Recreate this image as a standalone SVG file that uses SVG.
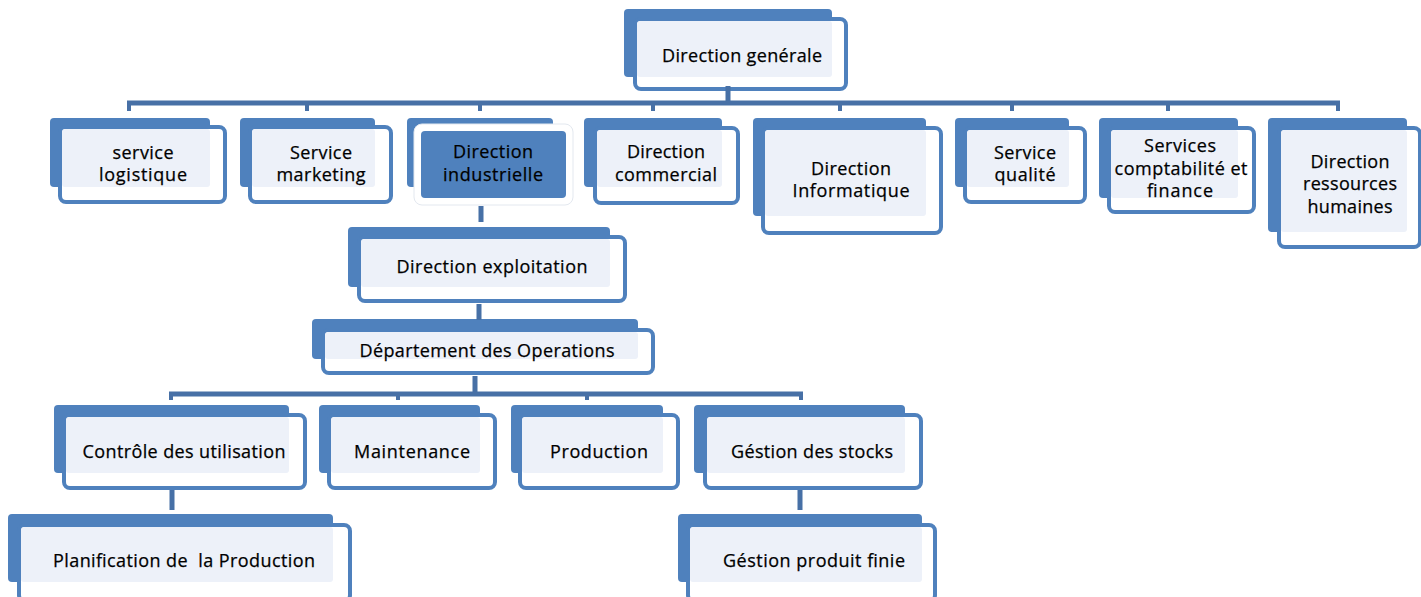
<svg xmlns="http://www.w3.org/2000/svg" width="1421" height="597" viewBox="0 0 1421 597">
<style>
.a{fill:#4F81BD}
.b{fill:#FFFFFF;stroke:#4F81BD;stroke-width:4}
.c{fill:#EDF1F9}
.sel{fill:#4F81BD}
.bw{fill:#FFFFFF;stroke:#E3E8EF;stroke-width:1}
.t{font-family:"Open Sans","Liberation Sans",sans-serif;font-size:18px;fill:#000;stroke:#000;stroke-width:0.25;text-anchor:middle}
.cn{stroke:#4770A6;stroke-width:5;fill:none}
.tk{stroke:#4770A6;stroke-width:4;fill:none}
</style>
<rect width="1421" height="597" fill="#FFFFFF"/>
<g id="n0">
<rect class="a" x="624" y="9" width="208" height="68" rx="4"/>
<rect class="b" x="635" y="19" width="211" height="70" rx="6"/>
<rect class="c" x="637" y="21" width="195" height="56" rx="3"/>
<text class="t" x="742" y="62" textLength="160" lengthAdjust="spacing">Direction genérale</text>
</g>
<g id="n1">
<rect class="a" x="50" y="118" width="160" height="69" rx="4"/>
<rect class="b" x="60" y="127" width="165" height="75" rx="6"/>
<rect class="c" x="62" y="129" width="148" height="58" rx="3"/>
<text class="t" x="143" y="159" textLength="61" lengthAdjust="spacing">service</text>
<text class="t" x="143" y="181" textLength="88" lengthAdjust="spacing">logistique</text>
</g>
<g id="n2">
<rect class="a" x="240" y="118" width="135" height="69" rx="4"/>
<rect class="b" x="250" y="127" width="141" height="75" rx="6"/>
<rect class="c" x="252" y="129" width="123" height="58" rx="3"/>
<text class="t" x="321" y="159" textLength="62" lengthAdjust="spacing">Service</text>
<text class="t" x="321" y="181" textLength="89" lengthAdjust="spacing">marketing</text>
</g>
<g id="n3">
<rect class="a" x="407" y="118" width="146" height="69" rx="4"/>
<rect class="bw" x="414" y="124" width="159" height="81" rx="8"/>
<rect class="sel" x="421" y="131" width="145" height="67" rx="4"/>
<text class="t" x="493" y="158" textLength="80" lengthAdjust="spacing">Direction</text>
<text class="t" x="493" y="181" textLength="100" lengthAdjust="spacing">industrielle</text>
</g>
<g id="n4">
<rect class="a" x="584" y="118" width="138" height="69" rx="4"/>
<rect class="b" x="595" y="128" width="143" height="75" rx="6"/>
<rect class="c" x="597" y="130" width="125" height="57" rx="3"/>
<text class="t" x="666" y="158" textLength="78" lengthAdjust="spacing">Direction</text>
<text class="t" x="666" y="181" textLength="102" lengthAdjust="spacing">commercial</text>
</g>
<g id="n5">
<rect class="a" x="753" y="118" width="173" height="98" rx="4"/>
<rect class="b" x="763" y="128" width="178" height="105" rx="6"/>
<rect class="c" x="765" y="130" width="161" height="86" rx="3"/>
<text class="t" x="851" y="175" textLength="80" lengthAdjust="spacing">Direction</text>
<text class="t" x="851" y="197" textLength="117" lengthAdjust="spacing">Informatique</text>
</g>
<g id="n6">
<rect class="a" x="955" y="118" width="114" height="69" rx="4"/>
<rect class="b" x="965" y="128" width="120" height="74" rx="6"/>
<rect class="c" x="967" y="130" width="102" height="57" rx="3"/>
<text class="t" x="1025" y="159" textLength="62" lengthAdjust="spacing">Service</text>
<text class="t" x="1025" y="181" textLength="61" lengthAdjust="spacing">qualité</text>
</g>
<g id="n7">
<rect class="a" x="1099" y="118" width="139" height="80" rx="4"/>
<rect class="b" x="1109" y="128" width="145" height="84" rx="6"/>
<rect class="c" x="1111" y="130" width="127" height="68" rx="3"/>
<text class="t" x="1180" y="152" textLength="72" lengthAdjust="spacing">Services</text>
<text class="t" x="1181" y="175" textLength="133" lengthAdjust="spacing">comptabilité et</text>
<text class="t" x="1180" y="197" textLength="66" lengthAdjust="spacing">finance</text>
</g>
<g id="n8">
<rect class="a" x="1268" y="118" width="139" height="114" rx="4"/>
<rect class="b" x="1279" y="128" width="141" height="119" rx="6"/>
<rect class="c" x="1281" y="130" width="126" height="102" rx="3"/>
<text class="t" x="1350" y="168" textLength="79" lengthAdjust="spacing">Direction</text>
<text class="t" x="1350" y="190" textLength="94" lengthAdjust="spacing">ressources</text>
<text class="t" x="1350" y="213" textLength="85" lengthAdjust="spacing">humaines</text>
</g>
<g id="n9">
<rect class="a" x="348" y="227" width="262" height="60" rx="4"/>
<rect class="b" x="359" y="237" width="266" height="64" rx="6"/>
<rect class="c" x="361" y="239" width="249" height="48" rx="3"/>
<text class="t" x="492" y="273" textLength="191" lengthAdjust="spacing">Direction exploitation</text>
</g>
<g id="n10">
<rect class="a" x="312" y="319" width="326" height="40" rx="4"/>
<rect class="b" x="323" y="330" width="330" height="43" rx="6"/>
<rect class="c" x="325" y="332" width="313" height="27" rx="3"/>
<text class="t" x="487" y="357" textLength="255" lengthAdjust="spacing">Département des Operations</text>
</g>
<g id="n11">
<rect class="a" x="54" y="405" width="235" height="68" rx="4"/>
<rect class="b" x="64" y="415" width="241" height="73" rx="6"/>
<rect class="c" x="66" y="417" width="223" height="56" rx="3"/>
<text class="t" x="184" y="458" textLength="203" lengthAdjust="spacing">Contrôle des utilisation</text>
</g>
<g id="n12">
<rect class="a" x="319" y="405" width="161" height="68" rx="4"/>
<rect class="b" x="329" y="415" width="166" height="73" rx="6"/>
<rect class="c" x="331" y="417" width="149" height="56" rx="3"/>
<text class="t" x="412" y="458" textLength="116" lengthAdjust="spacing">Maintenance</text>
</g>
<g id="n13">
<rect class="a" x="511" y="405" width="152" height="68" rx="4"/>
<rect class="b" x="520" y="415" width="158" height="73" rx="6"/>
<rect class="c" x="522" y="417" width="141" height="56" rx="3"/>
<text class="t" x="599" y="458" textLength="98" lengthAdjust="spacing">Production</text>
</g>
<g id="n14">
<rect class="a" x="694" y="405" width="211" height="68" rx="4"/>
<rect class="b" x="705" y="415" width="216" height="73" rx="6"/>
<rect class="c" x="707" y="417" width="198" height="56" rx="3"/>
<text class="t" x="812" y="458" textLength="162" lengthAdjust="spacing">Géstion des stocks</text>
</g>
<g id="n15">
<rect class="a" x="8" y="514" width="325" height="68" rx="4"/>
<rect class="b" x="19" y="525" width="331" height="76" rx="6"/>
<rect class="c" x="21" y="527" width="312" height="55" rx="3"/>
<text class="t" x="184" y="567" textLength="262" lengthAdjust="spacing" xml:space="preserve">Planification de  la Production</text>
</g>
<g id="n16">
<rect class="a" x="678" y="514" width="244" height="68" rx="4"/>
<rect class="b" x="688" y="525" width="247" height="76" rx="6"/>
<rect class="c" x="690" y="527" width="232" height="55" rx="3"/>
<text class="t" x="814" y="567" textLength="182" lengthAdjust="spacing">Géstion produit finie</text>
</g>
<g id="connectors">
<path class="cn" d="M728 86V103M127 103H1340"/>
<path class="tk" d="M129 103V111M307 103V111M480 103V111M653 103V111M840 103V111M1012 103V111M1168 103V111M1338 103V111"/>
<path class="cn" d="M481 206V222M479 304V320M475 376V394M169 394H803"/>
<path class="tk" d="M171 394V400M398 394V400M587 394V400M801 394V400"/>
<path class="cn" d="M172 490V510M800 490V510"/>
</g>
</svg>
